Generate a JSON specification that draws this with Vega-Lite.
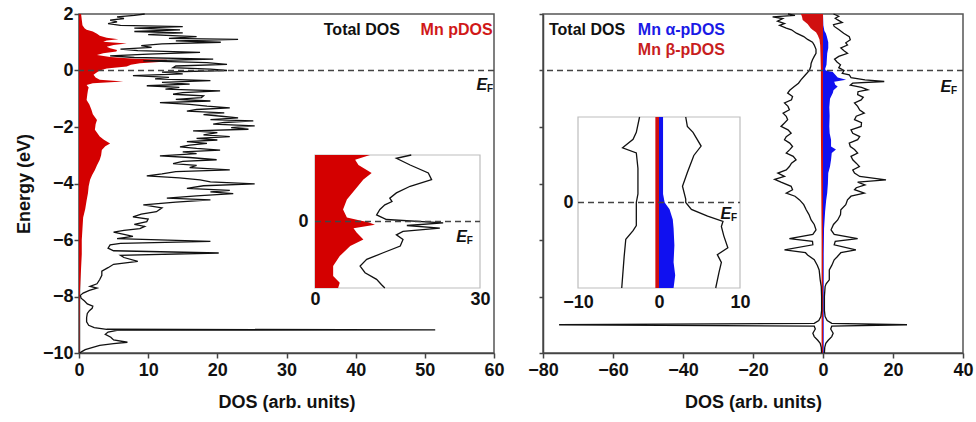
{
  "$schema": "https://vega.github.io/schema/vega-lite/v6.json",
  "background": "white",
  "padding": {"left": 14, "top": 4, "right": 2, "bottom": 5},
  "spacing": 21,
  "config": {
    "font": "Liberation Sans",
    "view": {"stroke": "#555", "strokeWidth": 1.5},
    "axis": {
      "grid": false, "labelFlush": false,
      "labelFont": "Liberation Sans", "labelFontWeight": "bold", "labelFontSize": 18, "labelColor": "#111",
      "titleFont": "Liberation Sans", "titleFontWeight": "bold", "titleFontSize": 18, "titleColor": "#111",
      "domainColor": "#444", "domainWidth": 1.5, "tickColor": "#444", "tickWidth": 1.5
    },
    "text": {"font": "Liberation Sans", "fontWeight": "bold", "fontSize": 16, "baseline": "middle"}
  },
  "datasets": {
    "one": [{}],
    "leftTotal": [
      {"E":2.00,"dos":9.5},{"E":1.95,"dos":8.0},{"E":1.90,"dos":5.5},{"E":1.84,"dos":6.5},{"E":1.78,"dos":4.5},{"E":1.72,"dos":5.5},{"E":1.66,"dos":4.2},{"E":1.60,"dos":6.0},{"E":1.55,"dos":15.0},{"E":1.50,"dos":8.0},{"E":1.44,"dos":14.6},{"E":1.38,"dos":8.0},{"E":1.33,"dos":15.0},{"E":1.27,"dos":10.0},{"E":1.20,"dos":17.0},{"E":1.14,"dos":13.0},{"E":1.10,"dos":23.0},{"E":1.05,"dos":14.0},{"E":1.00,"dos":20.5},{"E":0.94,"dos":12.0},{"E":0.88,"dos":9.0},{"E":0.82,"dos":10.5},{"E":0.76,"dos":6.0},{"E":0.70,"dos":8.5},{"E":0.64,"dos":17.5},{"E":0.58,"dos":10.0},{"E":0.52,"dos":4.5},{"E":0.46,"dos":8.0},{"E":0.40,"dos":19.4},{"E":0.34,"dos":9.3},{"E":0.28,"dos":18.5},{"E":0.22,"dos":21.4},{"E":0.16,"dos":14.0},{"E":0.10,"dos":13.6},{"E":0.05,"dos":19.0},{"E":0.00,"dos":21.4},
      {"E":-0.06,"dos":12.0},{"E":-0.12,"dos":15.0},{"E":-0.18,"dos":7.8},{"E":-0.24,"dos":13.0},{"E":-0.30,"dos":11.0},{"E":-0.36,"dos":19.0},{"E":-0.42,"dos":12.0},{"E":-0.48,"dos":16.0},{"E":-0.54,"dos":9.8},{"E":-0.60,"dos":14.5},{"E":-0.66,"dos":12.5},{"E":-0.72,"dos":20.4},{"E":-0.78,"dos":15.0},{"E":-0.84,"dos":13.6},{"E":-0.90,"dos":18.0},{"E":-0.96,"dos":17.7},{"E":-1.02,"dos":14.0},{"E":-1.08,"dos":19.0},{"E":-1.14,"dos":11.7},{"E":-1.20,"dos":16.0},{"E":-1.26,"dos":18.5},{"E":-1.32,"dos":21.8},{"E":-1.38,"dos":17.0},{"E":-1.44,"dos":15.6},{"E":-1.50,"dos":21.0},{"E":-1.56,"dos":18.0},{"E":-1.62,"dos":20.6},{"E":-1.68,"dos":23.0},{"E":-1.74,"dos":19.0},{"E":-1.78,"dos":25.2},{"E":-1.84,"dos":21.0},{"E":-1.90,"dos":19.4},{"E":-1.96,"dos":25.4},{"E":-2.02,"dos":22.0},{"E":-2.08,"dos":24.5},{"E":-2.14,"dos":16.5},{"E":-2.20,"dos":20.0},{"E":-2.28,"dos":18.0},{"E":-2.34,"dos":21.8},{"E":-2.40,"dos":17.0},{"E":-2.46,"dos":20.0},{"E":-2.52,"dos":15.6},{"E":-2.58,"dos":18.5},{"E":-2.64,"dos":16.0},{"E":-2.70,"dos":14.6},{"E":-2.76,"dos":17.0},{"E":-2.82,"dos":20.4},{"E":-2.88,"dos":15.0},{"E":-2.94,"dos":17.0},
      {"E":-3.02,"dos":11.7},{"E":-3.08,"dos":16.0},{"E":-3.16,"dos":19.9},{"E":-3.22,"dos":15.0},{"E":-3.30,"dos":13.6},{"E":-3.36,"dos":17.0},{"E":-3.44,"dos":16.0},{"E":-3.52,"dos":21.8},{"E":-3.58,"dos":14.0},{"E":-3.66,"dos":12.0},{"E":-3.73,"dos":9.8},{"E":-3.80,"dos":14.5},{"E":-3.87,"dos":17.5},{"E":-3.94,"dos":19.0},{"E":-4.01,"dos":25.4},{"E":-4.08,"dos":18.0},{"E":-4.17,"dos":15.6},{"E":-4.24,"dos":21.8},{"E":-4.30,"dos":19.0},{"E":-4.36,"dos":22.3},{"E":-4.44,"dos":17.0},{"E":-4.52,"dos":12.7},{"E":-4.58,"dos":19.0},{"E":-4.66,"dos":14.0},{"E":-4.76,"dos":9.3},{"E":-4.86,"dos":12.0},{"E":-5.00,"dos":11.2},{"E":-5.08,"dos":9.0},{"E":-5.18,"dos":7.8},{"E":-5.26,"dos":10.0},{"E":-5.35,"dos":9.8},{"E":-5.45,"dos":8.0},{"E":-5.52,"dos":9.5},{"E":-5.60,"dos":8.8},{"E":-5.66,"dos":6.5},{"E":-5.72,"dos":5.0},{"E":-5.80,"dos":6.5},{"E":-5.87,"dos":7.8},{"E":-5.95,"dos":5.5},{"E":-6.05,"dos":19.0},{"E":-6.12,"dos":6.0},{"E":-6.17,"dos":4.5},{"E":-6.29,"dos":4.2},{"E":-6.38,"dos":5.0},{"E":-6.46,"dos":20.2},{"E":-6.54,"dos":6.0},{"E":-6.62,"dos":6.5},{"E":-6.76,"dos":8.5},{"E":-6.86,"dos":5.0},{"E":-6.98,"dos":4.2},
      {"E":-7.10,"dos":3.3},{"E":-7.25,"dos":3.3},{"E":-7.40,"dos":3.0},{"E":-7.55,"dos":2.6},{"E":-7.64,"dos":1.6},{"E":-7.70,"dos":2.6},{"E":-7.78,"dos":1.5},{"E":-7.88,"dos":0.6},{"E":-7.96,"dos":0.2},{"E":-8.06,"dos":0.3},{"E":-8.16,"dos":0.8},{"E":-8.26,"dos":1.2},{"E":-8.34,"dos":2.0},{"E":-8.42,"dos":1.9},{"E":-8.50,"dos":1.5},{"E":-8.60,"dos":1.2},{"E":-8.75,"dos":1.1},{"E":-8.90,"dos":1.1},{"E":-9.02,"dos":1.4},{"E":-9.10,"dos":2.2},{"E":-9.16,"dos":4.0},{"E":-9.18,"dos":51.5},{"E":-9.20,"dos":5.5},{"E":-9.26,"dos":4.2},{"E":-9.34,"dos":3.8},{"E":-9.44,"dos":4.6},{"E":-9.54,"dos":5.0},{"E":-9.62,"dos":7.0},{"E":-9.67,"dos":5.0},{"E":-9.73,"dos":3.0},{"E":-9.80,"dos":2.0},{"E":-9.88,"dos":0.9},{"E":-9.95,"dos":0.4},{"E":-10.00,"dos":0.1}
    ],
    "leftMn": [
      {"E":2.00,"dos":0.3},{"E":1.80,"dos":0.4},{"E":1.60,"dos":0.5},{"E":1.50,"dos":0.8},{"E":1.44,"dos":1.1},{"E":1.38,"dos":2.0},{"E":1.30,"dos":2.6},{"E":1.23,"dos":3.0},{"E":1.16,"dos":4.0},{"E":1.11,"dos":5.7},{"E":1.06,"dos":4.0},{"E":1.02,"dos":3.5},{"E":0.96,"dos":6.9},{"E":0.90,"dos":5.0},{"E":0.84,"dos":4.0},{"E":0.79,"dos":4.5},{"E":0.73,"dos":5.5},{"E":0.67,"dos":5.4},{"E":0.61,"dos":3.5},{"E":0.55,"dos":2.6},{"E":0.48,"dos":4.5},{"E":0.42,"dos":8.0},{"E":0.38,"dos":12.7},{"E":0.32,"dos":12.7},{"E":0.26,"dos":8.8},{"E":0.20,"dos":7.5},{"E":0.14,"dos":6.9},{"E":0.07,"dos":4.0},{"E":0.00,"dos":3.0},
      {"E":-0.08,"dos":2.5},{"E":-0.15,"dos":2.1},{"E":-0.25,"dos":2.4},{"E":-0.33,"dos":3.0},{"E":-0.39,"dos":6.4},{"E":-0.45,"dos":2.0},{"E":-0.51,"dos":1.1},{"E":-0.60,"dos":1.4},{"E":-0.69,"dos":1.3},{"E":-0.85,"dos":1.2},{"E":-1.04,"dos":1.1},{"E":-1.20,"dos":1.5},{"E":-1.39,"dos":1.8},{"E":-1.55,"dos":2.0},{"E":-1.75,"dos":2.6},{"E":-1.90,"dos":2.4},{"E":-2.10,"dos":2.3},{"E":-2.34,"dos":3.0},{"E":-2.45,"dos":3.6},{"E":-2.58,"dos":4.5},{"E":-2.68,"dos":3.8},{"E":-2.81,"dos":3.3},{"E":-3.00,"dos":3.2},{"E":-3.16,"dos":3.0},{"E":-3.35,"dos":2.6},{"E":-3.52,"dos":2.3},{"E":-3.70,"dos":1.9},{"E":-3.87,"dos":1.6},{"E":-4.10,"dos":1.4},{"E":-4.34,"dos":1.3},{"E":-4.60,"dos":1.1},{"E":-4.90,"dos":0.9},{"E":-5.20,"dos":0.6},{"E":-5.60,"dos":0.5},{"E":-6.00,"dos":0.4},{"E":-6.50,"dos":0.4},{"E":-7.00,"dos":0.3},{"E":-7.50,"dos":0.2},{"E":-8.00,"dos":0.1},{"E":-9.00,"dos":0.05},{"E":-10.00,"dos":0.05}
    ],
    "leftInsetTotal": [
      {"E":1.00,"dos":17.5},{"E":0.95,"dos":14.8},{"E":0.85,"dos":17.3},{"E":0.73,"dos":20.6},{"E":0.63,"dos":21.2},{"E":0.53,"dos":17.3},{"E":0.43,"dos":14.8},{"E":0.35,"dos":13.6},{"E":0.30,"dos":14.0},{"E":0.25,"dos":12.7},{"E":0.18,"dos":11.8},{"E":0.10,"dos":11.2},{"E":0.03,"dos":13.0},{"E":-0.02,"dos":23.3},{"E":-0.06,"dos":16.7},{"E":-0.10,"dos":22.7},{"E":-0.15,"dos":16.0},{"E":-0.20,"dos":14.8},{"E":-0.27,"dos":16.0},{"E":-0.37,"dos":15.5},{"E":-0.47,"dos":12.4},{"E":-0.57,"dos":9.4},{"E":-0.67,"dos":8.2},{"E":-0.77,"dos":9.1},{"E":-0.87,"dos":11.2},{"E":-0.95,"dos":12.1},{"E":-1.00,"dos":12.7}
    ],
    "leftInsetMn": [
      {"E":1.00,"dos":10.0},{"E":0.93,"dos":7.3},{"E":0.85,"dos":7.9},{"E":0.73,"dos":10.3},{"E":0.63,"dos":8.8},{"E":0.48,"dos":7.3},{"E":0.33,"dos":5.8},{"E":0.18,"dos":5.1},{"E":0.06,"dos":5.8},{"E":0.02,"dos":8.0},{"E":-0.01,"dos":9.7},{"E":-0.05,"dos":10.9},{"E":-0.10,"dos":7.0},{"E":-0.17,"dos":7.6},{"E":-0.27,"dos":8.8},{"E":-0.37,"dos":6.4},{"E":-0.52,"dos":4.5},{"E":-0.67,"dos":3.3},{"E":-0.82,"dos":3.3},{"E":-0.92,"dos":4.5},{"E":-1.00,"dos":4.2}
    ],
    "rightTotal": [
      {"spin":"alpha","E":2.00,"dos":3.0},{"spin":"alpha","E":1.92,"dos":4.5},{"spin":"alpha","E":1.85,"dos":3.5},{"spin":"alpha","E":1.79,"dos":4.2},{"spin":"alpha","E":1.70,"dos":5.5},{"spin":"alpha","E":1.62,"dos":3.0},{"spin":"alpha","E":1.56,"dos":3.2},{"spin":"alpha","E":1.45,"dos":4.5},{"spin":"alpha","E":1.32,"dos":5.9},{"spin":"alpha","E":1.20,"dos":7.5},{"spin":"alpha","E":1.09,"dos":7.8},{"spin":"alpha","E":0.98,"dos":6.5},{"spin":"alpha","E":0.90,"dos":7.0},{"spin":"alpha","E":0.80,"dos":5.1},{"spin":"alpha","E":0.70,"dos":6.0},{"spin":"alpha","E":0.61,"dos":7.0},{"spin":"alpha","E":0.50,"dos":4.5},{"spin":"alpha","E":0.40,"dos":3.3},{"spin":"alpha","E":0.30,"dos":4.0},{"spin":"alpha","E":0.20,"dos":5.0},{"spin":"alpha","E":0.10,"dos":4.5},{"spin":"alpha","E":0.00,"dos":6.0},
      {"spin":"alpha","E":-0.10,"dos":5.5},{"spin":"alpha","E":-0.15,"dos":7.5},{"spin":"alpha","E":-0.25,"dos":8.0},{"spin":"alpha","E":-0.33,"dos":12.0},{"spin":"alpha","E":-0.39,"dos":17.5},{"spin":"alpha","E":-0.45,"dos":8.5},{"spin":"alpha","E":-0.52,"dos":7.8},{"spin":"alpha","E":-0.60,"dos":11.0},{"spin":"alpha","E":-0.68,"dos":12.8},{"spin":"alpha","E":-0.75,"dos":10.0},{"spin":"alpha","E":-0.85,"dos":9.9},{"spin":"alpha","E":-0.95,"dos":11.5},{"spin":"alpha","E":-1.04,"dos":10.9},{"spin":"alpha","E":-1.15,"dos":9.0},{"spin":"alpha","E":-1.27,"dos":9.9},{"spin":"alpha","E":-1.40,"dos":10.5},{"spin":"alpha","E":-1.51,"dos":11.8},{"spin":"alpha","E":-1.62,"dos":9.5},{"spin":"alpha","E":-1.74,"dos":9.0},{"spin":"alpha","E":-1.85,"dos":11.0},{"spin":"alpha","E":-1.98,"dos":10.9},{"spin":"alpha","E":-2.10,"dos":8.0},{"spin":"alpha","E":-2.22,"dos":8.5},{"spin":"alpha","E":-2.34,"dos":10.5},{"spin":"alpha","E":-2.45,"dos":9.9},{"spin":"alpha","E":-2.57,"dos":7.5},{"spin":"alpha","E":-2.69,"dos":7.8},{"spin":"alpha","E":-2.80,"dos":9.0},{"spin":"alpha","E":-2.92,"dos":9.9},{"spin":"alpha","E":-3.04,"dos":8.0},{"spin":"alpha","E":-3.16,"dos":8.5},{"spin":"alpha","E":-3.28,"dos":9.5},{"spin":"alpha","E":-3.40,"dos":10.4},{"spin":"alpha","E":-3.52,"dos":8.5},{"spin":"alpha","E":-3.63,"dos":9.0},{"spin":"alpha","E":-3.75,"dos":10.5},{"spin":"alpha","E":-3.87,"dos":18.0},{"spin":"alpha","E":-3.95,"dos":9.9},{"spin":"alpha","E":-4.05,"dos":12.0},{"spin":"alpha","E":-4.15,"dos":9.5},{"spin":"alpha","E":-4.22,"dos":9.0},{"spin":"alpha","E":-4.34,"dos":11.8},{"spin":"alpha","E":-4.45,"dos":8.0},{"spin":"alpha","E":-4.58,"dos":7.0},{"spin":"alpha","E":-4.75,"dos":6.5},{"spin":"alpha","E":-4.93,"dos":5.1},{"spin":"alpha","E":-5.10,"dos":5.0},{"spin":"alpha","E":-5.29,"dos":4.2},{"spin":"alpha","E":-5.45,"dos":3.0},{"spin":"alpha","E":-5.64,"dos":2.3},{"spin":"alpha","E":-5.80,"dos":3.2},{"spin":"alpha","E":-5.95,"dos":9.9},{"spin":"alpha","E":-6.05,"dos":3.5},{"spin":"alpha","E":-6.17,"dos":3.2},{"spin":"alpha","E":-6.35,"dos":9.4},{"spin":"alpha","E":-6.45,"dos":5.1},{"spin":"alpha","E":-6.60,"dos":4.0},{"spin":"alpha","E":-6.70,"dos":3.2},{"spin":"alpha","E":-6.90,"dos":2.5},{"spin":"alpha","E":-7.06,"dos":1.8},{"spin":"alpha","E":-7.41,"dos":1.8},{"spin":"alpha","E":-7.55,"dos":0.9},{"spin":"alpha","E":-7.65,"dos":0.6},{"spin":"alpha","E":-8.00,"dos":0.4},{"spin":"alpha","E":-8.50,"dos":0.4},{"spin":"alpha","E":-8.71,"dos":0.6},{"spin":"alpha","E":-8.85,"dos":1.2},{"spin":"alpha","E":-8.95,"dos":2.5},{"spin":"alpha","E":-9.00,"dos":24.0},{"spin":"alpha","E":-9.05,"dos":2.5},{"spin":"alpha","E":-9.15,"dos":2.2},{"spin":"alpha","E":-9.30,"dos":2.9},{"spin":"alpha","E":-9.42,"dos":2.5},{"spin":"alpha","E":-9.55,"dos":1.5},{"spin":"alpha","E":-9.66,"dos":0.8},{"spin":"alpha","E":-9.80,"dos":0.5},{"spin":"alpha","E":-10.00,"dos":0.4},
      {"spin":"beta","E":2.00,"dos":-10.0},{"spin":"beta","E":1.95,"dos":-8.0},{"spin":"beta","E":1.90,"dos":-14.4},{"spin":"beta","E":1.84,"dos":-11.5},{"spin":"beta","E":1.75,"dos":-13.0},{"spin":"beta","E":1.66,"dos":-11.0},{"spin":"beta","E":1.60,"dos":-12.4},{"spin":"beta","E":1.50,"dos":-10.5},{"spin":"beta","E":1.44,"dos":-9.0},{"spin":"beta","E":1.32,"dos":-7.6},{"spin":"beta","E":1.20,"dos":-5.5},{"spin":"beta","E":1.10,"dos":-4.4},{"spin":"beta","E":1.00,"dos":-3.0},{"spin":"beta","E":0.90,"dos":-2.5},{"spin":"beta","E":0.75,"dos":-2.0},{"spin":"beta","E":0.61,"dos":-2.0},{"spin":"beta","E":0.50,"dos":-2.5},{"spin":"beta","E":0.38,"dos":-3.0},{"spin":"beta","E":0.25,"dos":-3.4},{"spin":"beta","E":0.14,"dos":-3.5},{"spin":"beta","E":0.00,"dos":-3.9},
      {"spin":"beta","E":-0.15,"dos":-5.0},{"spin":"beta","E":-0.33,"dos":-6.3},{"spin":"beta","E":-0.45,"dos":-7.0},{"spin":"beta","E":-0.57,"dos":-8.2},{"spin":"beta","E":-0.70,"dos":-9.5},{"spin":"beta","E":-0.80,"dos":-10.1},{"spin":"beta","E":-0.92,"dos":-8.7},{"spin":"beta","E":-1.04,"dos":-9.0},{"spin":"beta","E":-1.15,"dos":-11.0},{"spin":"beta","E":-1.27,"dos":-10.0},{"spin":"beta","E":-1.39,"dos":-9.6},{"spin":"beta","E":-1.51,"dos":-11.4},{"spin":"beta","E":-1.62,"dos":-10.5},{"spin":"beta","E":-1.74,"dos":-10.1},{"spin":"beta","E":-1.86,"dos":-11.0},{"spin":"beta","E":-1.98,"dos":-12.0},{"spin":"beta","E":-2.10,"dos":-10.0},{"spin":"beta","E":-2.22,"dos":-9.1},{"spin":"beta","E":-2.34,"dos":-10.5},{"spin":"beta","E":-2.45,"dos":-11.0},{"spin":"beta","E":-2.57,"dos":-9.5},{"spin":"beta","E":-2.69,"dos":-8.7},{"spin":"beta","E":-2.80,"dos":-9.5},{"spin":"beta","E":-2.92,"dos":-10.5},{"spin":"beta","E":-3.04,"dos":-8.5},{"spin":"beta","E":-3.16,"dos":-7.7},{"spin":"beta","E":-3.28,"dos":-9.0},{"spin":"beta","E":-3.40,"dos":-9.6},{"spin":"beta","E":-3.52,"dos":-10.5},{"spin":"beta","E":-3.63,"dos":-12.9},{"spin":"beta","E":-3.75,"dos":-11.0},{"spin":"beta","E":-3.85,"dos":-13.8},{"spin":"beta","E":-3.95,"dos":-12.0},{"spin":"beta","E":-4.10,"dos":-9.1},{"spin":"beta","E":-4.22,"dos":-8.7},{"spin":"beta","E":-4.34,"dos":-10.5},{"spin":"beta","E":-4.45,"dos":-8.0},{"spin":"beta","E":-4.58,"dos":-6.7},{"spin":"beta","E":-4.75,"dos":-5.5},{"spin":"beta","E":-4.93,"dos":-4.8},{"spin":"beta","E":-5.10,"dos":-4.0},{"spin":"beta","E":-5.29,"dos":-3.4},{"spin":"beta","E":-5.45,"dos":-2.5},{"spin":"beta","E":-5.64,"dos":-2.0},{"spin":"beta","E":-5.80,"dos":-2.9},{"spin":"beta","E":-5.95,"dos":-9.6},{"spin":"beta","E":-6.05,"dos":-3.0},{"spin":"beta","E":-6.17,"dos":-2.9},{"spin":"beta","E":-6.35,"dos":-11.0},{"spin":"beta","E":-6.45,"dos":-5.0},{"spin":"beta","E":-6.53,"dos":-4.4},{"spin":"beta","E":-6.70,"dos":-2.5},{"spin":"beta","E":-6.90,"dos":-1.6},{"spin":"beta","E":-7.06,"dos":-1.1},{"spin":"beta","E":-7.41,"dos":-0.8},{"spin":"beta","E":-7.65,"dos":-0.5},{"spin":"beta","E":-8.00,"dos":-0.4},{"spin":"beta","E":-8.50,"dos":-0.4},{"spin":"beta","E":-8.71,"dos":-0.6},{"spin":"beta","E":-8.85,"dos":-1.2},{"spin":"beta","E":-8.95,"dos":-2.5},{"spin":"beta","E":-9.00,"dos":-75.4},{"spin":"beta","E":-9.05,"dos":-2.5},{"spin":"beta","E":-9.15,"dos":-2.2},{"spin":"beta","E":-9.30,"dos":-2.9},{"spin":"beta","E":-9.42,"dos":-2.5},{"spin":"beta","E":-9.55,"dos":-1.5},{"spin":"beta","E":-9.66,"dos":-0.8},{"spin":"beta","E":-9.80,"dos":-0.5},{"spin":"beta","E":-10.00,"dos":-0.4}
    ],
    "rightMnAlpha": [
      {"E":2.00,"dos":0.0},{"E":1.60,"dos":0.1},{"E":1.40,"dos":0.4},{"E":1.32,"dos":0.8},{"E":1.20,"dos":1.1},{"E":1.00,"dos":1.5},{"E":0.80,"dos":1.5},{"E":0.60,"dos":1.2},{"E":0.40,"dos":1.1},{"E":0.20,"dos":1.0},{"E":0.05,"dos":0.6},{"E":0.00,"dos":0.8},{"E":-0.05,"dos":2.8},{"E":-0.15,"dos":3.5},{"E":-0.25,"dos":4.2},{"E":-0.33,"dos":6.6},{"E":-0.40,"dos":3.2},{"E":-0.50,"dos":3.5},{"E":-0.57,"dos":4.2},{"E":-0.70,"dos":3.0},{"E":-0.80,"dos":2.8},{"E":-1.00,"dos":2.0},{"E":-1.30,"dos":1.8},{"E":-1.60,"dos":1.9},{"E":-1.98,"dos":1.8},{"E":-2.22,"dos":1.9},{"E":-2.45,"dos":2.3},{"E":-2.69,"dos":2.3},{"E":-2.80,"dos":3.7},{"E":-2.92,"dos":2.5},{"E":-3.16,"dos":2.3},{"E":-3.40,"dos":2.0},{"E":-3.63,"dos":1.5},{"E":-4.00,"dos":1.4},{"E":-4.34,"dos":1.2},{"E":-4.60,"dos":0.9},{"E":-5.00,"dos":0.6},{"E":-5.60,"dos":0.3},{"E":-6.50,"dos":0.2},{"E":-10.00,"dos":0.2}
    ],
    "rightMnBeta": [
      {"E":2.00,"dos":-6.3},{"E":1.90,"dos":-6.0},{"E":1.79,"dos":-5.8},{"E":1.65,"dos":-4.4},{"E":1.50,"dos":-3.5},{"E":1.44,"dos":-3.0},{"E":1.35,"dos":-2.0},{"E":1.25,"dos":-1.5},{"E":1.10,"dos":-1.0},{"E":0.90,"dos":-0.8},{"E":0.50,"dos":-0.7},{"E":0.00,"dos":-0.6},{"E":-2.00,"dos":-0.6},{"E":-4.00,"dos":-0.5},{"E":-6.00,"dos":-0.4},{"E":-10.00,"dos":-0.4}
    ],
    "rightInsetTotal": [
      {"spin":"alpha","E":1.00,"dos":3.3},{"spin":"alpha","E":0.89,"dos":3.5},{"spin":"alpha","E":0.82,"dos":4.2},{"spin":"alpha","E":0.66,"dos":5.2},{"spin":"alpha","E":0.55,"dos":4.3},{"spin":"alpha","E":0.35,"dos":3.5},{"spin":"alpha","E":0.19,"dos":2.9},{"spin":"alpha","E":0.04,"dos":3.3},{"spin":"alpha","E":0.00,"dos":3.3},{"spin":"alpha","E":-0.08,"dos":4.0},{"spin":"alpha","E":-0.16,"dos":6.0},{"spin":"alpha","E":-0.22,"dos":7.9},{"spin":"alpha","E":-0.28,"dos":7.7},{"spin":"alpha","E":-0.39,"dos":8.0},{"spin":"alpha","E":-0.53,"dos":8.5},{"spin":"alpha","E":-0.61,"dos":7.2},{"spin":"alpha","E":-0.70,"dos":7.7},{"spin":"alpha","E":-0.82,"dos":7.4},{"spin":"alpha","E":-1.00,"dos":7.0},
      {"spin":"beta","E":1.00,"dos":-2.4},{"spin":"beta","E":0.82,"dos":-2.8},{"spin":"beta","E":0.74,"dos":-3.2},{"spin":"beta","E":0.64,"dos":-4.5},{"spin":"beta","E":0.58,"dos":-2.8},{"spin":"beta","E":0.40,"dos":-2.6},{"spin":"beta","E":0.10,"dos":-2.6},{"spin":"beta","E":0.00,"dos":-2.8},{"spin":"beta","E":-0.27,"dos":-2.8},{"spin":"beta","E":-0.33,"dos":-3.2},{"spin":"beta","E":-0.43,"dos":-4.1},{"spin":"beta","E":-0.63,"dos":-4.3},{"spin":"beta","E":-1.00,"dos":-4.6}
    ],
    "rightInsetMnAlpha": [
      {"E":1.00,"dos":0.5},{"E":0.10,"dos":0.5},{"E":0.00,"dos":0.7},{"E":-0.08,"dos":1.3},{"E":-0.20,"dos":1.7},{"E":-0.30,"dos":1.8},{"E":-0.50,"dos":1.9},{"E":-0.70,"dos":1.8},{"E":-0.85,"dos":2.0},{"E":-1.00,"dos":1.8}
    ],
    "rightInsetMnBeta": [
      {"E":1.00,"dos":-0.45},{"E":0.00,"dos":-0.45},{"E":-1.00,"dos":-0.45}
    ]
  },
  "hconcat": [
    {
      "width": 415,
      "height": 339,
      "resolve": {"scale": {"x": "independent", "y": "independent"}},
      "layer": [
        {
          "layer": [
            {
              "data": {"name": "leftMn"},
              "mark": {"type": "area", "color": "#d40000"},
              "encoding": {
                "x": {"field": "dos", "type": "quantitative", "scale": {"domain": [0, 60], "nice": false, "zero": false},
                      "title": "DOS (arb. units)",
                      "axis": {"orient": "bottom", "values": [0,5,10,15,20,25,30,35,40,45,50,55,60],
                               "labelExpr": "datum.value % 10 === 0 ? datum.label : ''",
                               "tickSize": {"condition": {"test": "datum.value % 10 === 0", "value": 5}, "value": 3},
                               "labelPadding": 3, "titlePadding": 14}},
                "x2": {"datum": 0},
                "y": {"field": "E", "type": "quantitative", "scale": {"domain": [-10, 2], "nice": false, "zero": false},
                      "title": "Energy (eV)",
                      "axis": {"orient": "left", "values": [-10,-9,-8,-7,-6,-5,-4,-3,-2,-1,0,1,2],
                               "labelExpr": "datum.value % 2 === 0 ? datum.label : ''",
                               "tickSize": {"condition": {"test": "datum.value % 2 === 0", "value": 5}, "value": 3},
                               "labelPadding": 1, "titlePadding": 9}}
              }
            },
            {
              "data": {"name": "leftTotal"},
              "mark": {"type": "line", "color": "#111", "strokeWidth": 1.3},
              "encoding": {
                "x": {"field": "dos", "type": "quantitative"},
                "y": {"field": "E", "type": "quantitative"},
                "order": {"field": "E", "type": "quantitative"}
              }
            },
            {
              "data": {"name": "one"},
              "mark": {"type": "rule", "color": "#444", "strokeWidth": 1.5, "strokeDash": [6, 4]},
              "encoding": {"y": {"datum": 0}}
            },
            {
              "data": {"name": "one"},
              "mark": {"type": "text", "align": "right", "color": "#111"},
              "encoding": {"x": {"datum": 46.4}, "y": {"datum": 1.44}, "text": {"value": "Total DOS"}}
            },
            {
              "data": {"name": "one"},
              "mark": {"type": "text", "align": "right", "color": "#d01818"},
              "encoding": {"x": {"datum": 59.8}, "y": {"datum": 1.44}, "text": {"value": "Mn pDOS"}}
            },
            {
              "data": {"name": "one"},
              "mark": {"type": "text", "align": "right", "fontStyle": "italic", "color": "#111"},
              "encoding": {"x": {"datum": 59.0}, "y": {"datum": -0.5}, "text": {"value": "E"}}
            },
            {
              "data": {"name": "one"},
              "mark": {"type": "text", "align": "left", "fontSize": 10, "dy": 4, "color": "#111"},
              "encoding": {"x": {"datum": 59.0}, "y": {"datum": -0.5}, "text": {"value": "F"}}
            }
          ]
        },
        {
          "layer": [
            {
              "data": {"name": "one"},
              "mark": {"type": "rect", "fill": "white", "stroke": "#bdbdbd", "strokeWidth": 1.2},
              "encoding": {
                "x": {"datum": 0, "type": "quantitative", "scale": {"domain": [0, 30], "range": [236, 401], "nice": false, "zero": false},
                      "axis": {"orient": "bottom", "offset": -65, "values": [0, 30], "format": "d", "domain": false, "ticks": false, "labelPadding": 2, "title": null}},
                "x2": {"datum": 30},
                "y": {"datum": -1, "type": "quantitative", "scale": {"domain": [-1, 1], "range": [274, 141], "nice": false, "zero": false},
                      "axis": {"orient": "left", "offset": -236, "values": [0], "format": "d", "domain": false, "ticks": false, "labelPadding": 7, "title": null}},
                "y2": {"datum": 1}
              }
            },
            {
              "data": {"name": "leftInsetMn"},
              "mark": {"type": "area", "color": "#d40000"},
              "encoding": {
                "x": {"field": "dos", "type": "quantitative"},
                "x2": {"datum": 0},
                "y": {"field": "E", "type": "quantitative"}
              }
            },
            {
              "data": {"name": "leftInsetTotal"},
              "mark": {"type": "line", "color": "#111", "strokeWidth": 1.3},
              "encoding": {
                "x": {"field": "dos", "type": "quantitative"},
                "y": {"field": "E", "type": "quantitative"},
                "order": {"field": "E", "type": "quantitative"}
              }
            },
            {
              "data": {"name": "one"},
              "mark": {"type": "rule", "color": "#444", "strokeWidth": 1.5, "strokeDash": [6, 4]},
              "encoding": {"x": {"datum": 0}, "x2": {"datum": 30}, "y": {"datum": 0}}
            },
            {
              "data": {"name": "one"},
              "mark": {"type": "text", "align": "right", "fontStyle": "italic", "color": "#111"},
              "encoding": {"x": {"datum": 27.6}, "y": {"datum": -0.23}, "text": {"value": "E"}}
            },
            {
              "data": {"name": "one"},
              "mark": {"type": "text", "align": "left", "fontSize": 10, "dy": 4, "color": "#111"},
              "encoding": {"x": {"datum": 27.6}, "y": {"datum": -0.23}, "text": {"value": "F"}}
            }
          ]
        }
      ]
    },
    {
      "width": 420,
      "height": 339,
      "resolve": {"scale": {"x": "independent", "y": "independent"}},
      "layer": [
        {
          "layer": [
            {
              "data": {"name": "rightMnAlpha"},
              "mark": {"type": "area", "color": "#1010f0"},
              "encoding": {
                "x": {"field": "dos", "type": "quantitative", "scale": {"domain": [-80, 40], "nice": false, "zero": false},
                      "title": "DOS (arb. units)",
                      "axis": {"orient": "bottom", "values": [-80,-70,-60,-50,-40,-30,-20,-10,0,10,20,30,40],
                               "labelExpr": "datum.value % 20 === 0 ? datum.label : ''",
                               "tickSize": {"condition": {"test": "datum.value % 20 === 0", "value": 5}, "value": 3},
                               "labelPadding": 3, "titlePadding": 14}},
                "x2": {"datum": 0},
                "y": {"field": "E", "type": "quantitative", "scale": {"domain": [-10, 2], "nice": false, "zero": false},
                      "axis": {"orient": "left", "values": [-10,-9,-8,-7,-6,-5,-4,-3,-2,-1,0,1,2], "labels": false, "tickSize": 4, "title": null}}
              }
            },
            {
              "data": {"name": "rightMnBeta"},
              "mark": {"type": "area", "color": "#d01010"},
              "encoding": {
                "x": {"field": "dos", "type": "quantitative"},
                "x2": {"datum": 0},
                "y": {"field": "E", "type": "quantitative"}
              }
            },
            {
              "data": {"name": "rightTotal"},
              "mark": {"type": "line", "color": "#111", "strokeWidth": 1.3},
              "encoding": {
                "x": {"field": "dos", "type": "quantitative"},
                "y": {"field": "E", "type": "quantitative"},
                "detail": {"field": "spin"},
                "order": {"field": "E", "type": "quantitative"}
              }
            },
            {
              "data": {"name": "one"},
              "mark": {"type": "rule", "color": "#444", "strokeWidth": 1.5, "strokeDash": [6, 4]},
              "encoding": {"y": {"datum": 0}}
            },
            {
              "data": {"name": "one"},
              "mark": {"type": "text", "align": "left", "color": "#111"},
              "encoding": {"x": {"datum": -78.3}, "y": {"datum": 1.44}, "text": {"value": "Total DOS"}}
            },
            {
              "data": {"name": "one"},
              "mark": {"type": "text", "align": "left", "color": "#1a1ae6"},
              "encoding": {"x": {"datum": -52.9}, "y": {"datum": 1.44}, "text": {"value": "Mn α-pDOS"}}
            },
            {
              "data": {"name": "one"},
              "mark": {"type": "text", "align": "left", "color": "#c81e1e"},
              "encoding": {"x": {"datum": -52.9}, "y": {"datum": 0.73}, "text": {"value": "Mn β-pDOS"}}
            },
            {
              "data": {"name": "one"},
              "mark": {"type": "text", "align": "right", "fontStyle": "italic", "color": "#111"},
              "encoding": {"x": {"datum": 36.6}, "y": {"datum": -0.58}, "text": {"value": "E"}}
            },
            {
              "data": {"name": "one"},
              "mark": {"type": "text", "align": "left", "fontSize": 10, "dy": 4, "color": "#111"},
              "encoding": {"x": {"datum": 36.6}, "y": {"datum": -0.58}, "text": {"value": "F"}}
            }
          ]
        },
        {
          "layer": [
            {
              "data": {"name": "one"},
              "mark": {"type": "rect", "fill": "white", "stroke": "#bdbdbd", "strokeWidth": 1.2},
              "encoding": {
                "x": {"datum": -10, "type": "quantitative", "scale": {"domain": [-10, 10], "range": [35, 197], "nice": false, "zero": false},
                      "axis": {"orient": "bottom", "offset": -65, "values": [-10, 0, 10], "format": "d", "domain": false, "ticks": false, "labelPadding": 5, "title": null}},
                "x2": {"datum": 10},
                "y": {"datum": -1, "type": "quantitative", "scale": {"domain": [-1, 1], "range": [274, 103], "nice": false, "zero": false},
                      "axis": {"orient": "left", "offset": -35, "values": [0], "format": "d", "domain": false, "ticks": false, "labelPadding": 5, "title": null}},
                "y2": {"datum": 1}
              }
            },
            {
              "data": {"name": "rightInsetMnAlpha"},
              "mark": {"type": "area", "color": "#1010f0"},
              "encoding": {
                "x": {"field": "dos", "type": "quantitative"},
                "x2": {"datum": 0},
                "y": {"field": "E", "type": "quantitative"}
              }
            },
            {
              "data": {"name": "rightInsetMnBeta"},
              "mark": {"type": "area", "color": "#d01010"},
              "encoding": {
                "x": {"field": "dos", "type": "quantitative"},
                "x2": {"datum": 0},
                "y": {"field": "E", "type": "quantitative"}
              }
            },
            {
              "data": {"name": "rightInsetTotal"},
              "mark": {"type": "line", "color": "#111", "strokeWidth": 1.3},
              "encoding": {
                "x": {"field": "dos", "type": "quantitative"},
                "y": {"field": "E", "type": "quantitative"},
                "detail": {"field": "spin"},
                "order": {"field": "E", "type": "quantitative"}
              }
            },
            {
              "data": {"name": "one"},
              "mark": {"type": "rule", "color": "#444", "strokeWidth": 1.5, "strokeDash": [6, 4]},
              "encoding": {"x": {"datum": -10}, "x2": {"datum": 10}, "y": {"datum": 0}}
            },
            {
              "data": {"name": "one"},
              "mark": {"type": "text", "align": "right", "fontStyle": "italic", "color": "#111"},
              "encoding": {"x": {"datum": 8.9}, "y": {"datum": -0.14}, "text": {"value": "E"}}
            },
            {
              "data": {"name": "one"},
              "mark": {"type": "text", "align": "left", "fontSize": 10, "dy": 4, "color": "#111"},
              "encoding": {"x": {"datum": 8.9}, "y": {"datum": -0.14}, "text": {"value": "F"}}
            }
          ]
        }
      ]
    }
  ]
}
